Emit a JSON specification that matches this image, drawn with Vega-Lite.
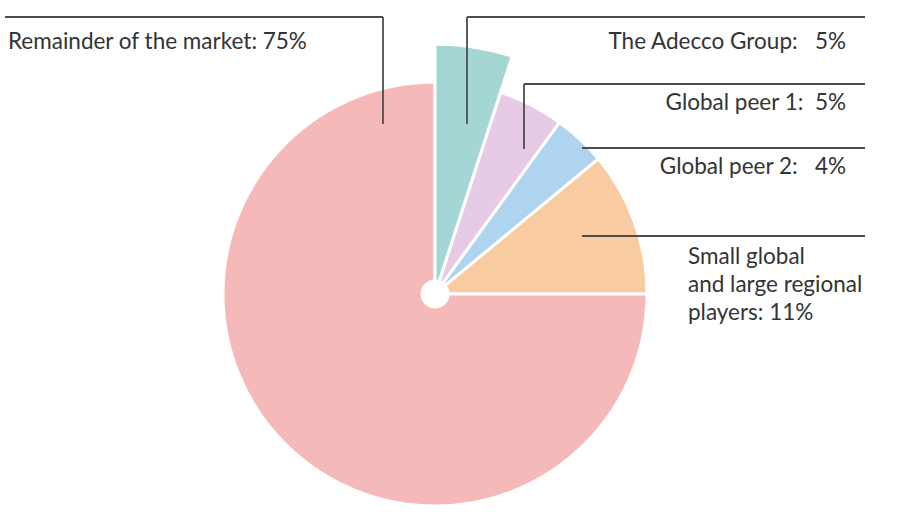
{
  "$schema": "https://vega.github.io/schema/vega-lite/v6.json",
  "width": 901,
  "height": 518,
  "autosize": {"type": "fit", "contains": "padding"},
  "padding": 0,
  "background": "white",
  "config": {"view": {"stroke": null}},
  "datasets": {
    "shares": [
      {"segment": "The Adecco Group", "share": 5},
      {"segment": "Global peer 1", "share": 5},
      {"segment": "Global peer 2", "share": 4},
      {"segment": "Small global and large regional players", "share": 11},
      {"segment": "Remainder of the market", "share": 75}
    ],
    "leaders": [
      {"segment": "Remainder of the market", "x": 5, "y": 17, "x2": 383, "y2": 17},
      {"segment": "Remainder of the market", "x": 383, "y": 17, "x2": 383, "y2": 124},
      {"segment": "The Adecco Group", "x": 467, "y": 17, "x2": 865, "y2": 17},
      {"segment": "The Adecco Group", "x": 467, "y": 17, "x2": 467, "y2": 124},
      {"segment": "Global peer 1", "x": 524, "y": 84, "x2": 865, "y2": 84},
      {"segment": "Global peer 1", "x": 524, "y": 84, "x2": 524, "y2": 149},
      {"segment": "Global peer 2", "x": 582, "y": 148, "x2": 865, "y2": 148},
      {"segment": "Small global and large regional players", "x": 582, "y": 236, "x2": 865, "y2": 236}
    ],
    "labels": [
      {"segment": "Remainder of the market", "label": "Remainder of the market: 75%", "x": 8, "y": 49},
      {"segment": "The Adecco Group", "label": "The Adecco Group:\u00a0\u00a0 5%", "x": 846, "y": 49},
      {"segment": "Global peer 1", "label": "Global peer 1:\u00a0 5%", "x": 846, "y": 110},
      {"segment": "Global peer 2", "label": "Global peer 2:\u00a0\u00a0 4%", "x": 846, "y": 174},
      {"segment": "Small global and large regional players", "label": "Small global\nand large regional\nplayers: 11%", "x": 688, "y": 264}
    ]
  },
  "layer": [
    {
      "data": {"name": "shares"},
      "transform": [
        {"window": [{"op": "row_number", "as": "idx"}]},
        {"stack": "share", "groupby": [], "sort": [{"field": "idx", "order": "ascending"}], "as": ["t0", "t1"]}
      ],
      "mark": {"type": "arc", "innerRadius": 13, "outerRadius": 212, "stroke": "white", "strokeWidth": 3},
      "encoding": {
        "x": {"datum": 435, "type": "quantitative", "scale": {"domain": [0, 901]}, "axis": null},
        "y": {"datum": 294, "type": "quantitative", "scale": {"domain": [518, 0]}, "axis": null},
        "theta": {"field": "t0", "type": "quantitative", "scale": {"domain": [0, 100]}},
        "theta2": {"field": "t1"},
        "color": {
          "field": "segment",
          "type": "nominal",
          "scale": {
            "domain": ["The Adecco Group", "Global peer 1", "Global peer 2", "Small global and large regional players", "Remainder of the market"],
            "range": ["#a4d7d3", "#e7cbe6", "#aed4f0", "#f8cba0", "#f5b9b9"]
          },
          "legend": null
        }
      }
    },
    {
      "data": {"name": "shares"},
      "transform": [
        {"window": [{"op": "row_number", "as": "idx"}]},
        {"stack": "share", "groupby": [], "sort": [{"field": "idx", "order": "ascending"}], "as": ["t0", "t1"]},
        {"filter": "datum.segment === 'The Adecco Group'"}
      ],
      "mark": {"type": "arc", "innerRadius": 13, "outerRadius": 250, "stroke": "white", "strokeWidth": 3},
      "encoding": {
        "x": {"datum": 435, "type": "quantitative", "scale": {"domain": [0, 901]}, "axis": null},
        "y": {"datum": 294, "type": "quantitative", "scale": {"domain": [518, 0]}, "axis": null},
        "theta": {"field": "t0", "type": "quantitative", "scale": {"domain": [0, 100]}},
        "theta2": {"field": "t1"},
        "color": {"field": "segment", "type": "nominal", "legend": null}
      }
    },
    {
      "data": {"name": "leaders"},
      "mark": {"type": "rule", "color": "#4d4d4d", "strokeWidth": 1.8},
      "encoding": {
        "x": {"field": "x", "type": "quantitative", "scale": {"domain": [0, 901]}, "axis": null},
        "y": {"field": "y", "type": "quantitative", "scale": {"domain": [518, 0]}, "axis": null},
        "x2": {"field": "x2"},
        "y2": {"field": "y2"}
      }
    },
    {
      "data": {"name": "labels"},
      "transform": [{"filter": {"field": "segment", "oneOf": ["Remainder of the market", "Small global and large regional players"]}}],
      "mark": {"type": "text", "align": "left", "baseline": "alphabetic", "font": "Lato", "fontSize": 22.5, "color": "#333333", "lineBreak": "\n", "lineHeight": 28},
      "encoding": {
        "x": {"field": "x", "type": "quantitative", "scale": {"domain": [0, 901]}, "axis": null},
        "y": {"field": "y", "type": "quantitative", "scale": {"domain": [518, 0]}, "axis": null},
        "text": {"field": "label"}
      }
    },
    {
      "data": {"name": "labels"},
      "transform": [{"filter": {"field": "segment", "oneOf": ["The Adecco Group", "Global peer 1", "Global peer 2"]}}],
      "mark": {"type": "text", "align": "right", "baseline": "alphabetic", "font": "Lato", "fontSize": 22.5, "color": "#333333"},
      "encoding": {
        "x": {"field": "x", "type": "quantitative", "scale": {"domain": [0, 901]}, "axis": null},
        "y": {"field": "y", "type": "quantitative", "scale": {"domain": [518, 0]}, "axis": null},
        "text": {"field": "label"}
      }
    }
  ]
}
